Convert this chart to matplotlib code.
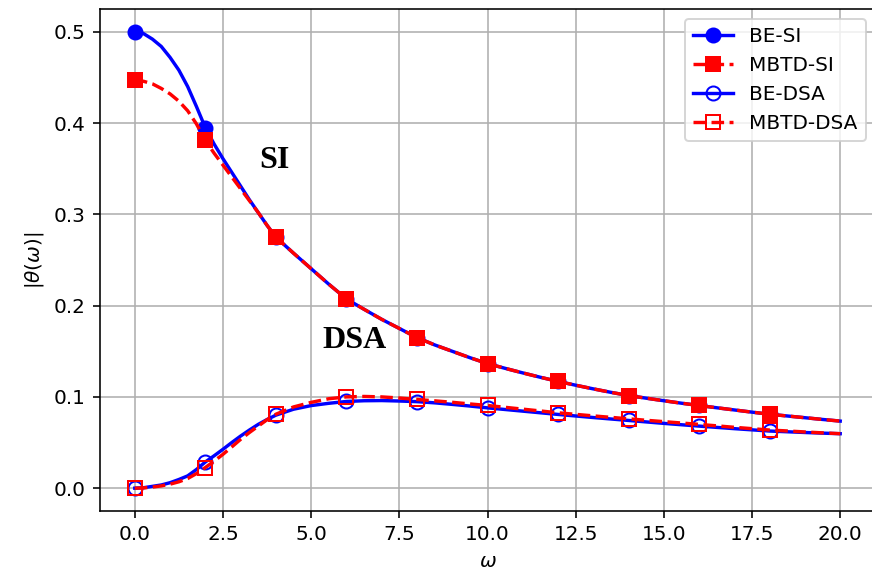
import matplotlib
matplotlib.use('Agg')
import matplotlib.pyplot as plt

# omega samples: every 0.25 up to 4, then every 0.5
omega = [i * 0.25 for i in range(17)] + [4.5 + i * 0.5 for i in range(32)]

be_si = [0.500, 0.498, 0.492, 0.484, 0.472, 0.458, 0.440, 0.418, 0.395,
         0.377, 0.361, 0.346, 0.331, 0.316, 0.302, 0.288, 0.275,
         0.2575, 0.2405, 0.2235, 0.2074, 0.196, 0.185, 0.175, 0.165,
         0.157, 0.150, 0.143, 0.1365, 0.1313, 0.1263, 0.1215, 0.117,
         0.1128, 0.1088, 0.105, 0.1015, 0.0986, 0.0958, 0.0931, 0.0906,
         0.0881, 0.0857, 0.0833, 0.081, 0.0791, 0.0772, 0.0753, 0.0735]

mbtd_si = [0.447, 0.4458, 0.443, 0.438, 0.432, 0.424, 0.4135, 0.399, 0.381,
           0.367, 0.354, 0.341, 0.328, 0.315, 0.302, 0.288, 0.275,
           0.2575, 0.2405, 0.2235, 0.2074, 0.196, 0.185, 0.175, 0.165,
           0.157, 0.150, 0.143, 0.1365, 0.1313, 0.1263, 0.1215, 0.117,
           0.1128, 0.1088, 0.105, 0.1015, 0.0986, 0.0958, 0.0931, 0.0906,
           0.0881, 0.0857, 0.0833, 0.081, 0.0791, 0.0772, 0.0753, 0.0735]

be_dsa = [0.0, 0.0005, 0.002, 0.0035, 0.006, 0.0095, 0.0135, 0.0205, 0.0287,
          0.0355, 0.0426, 0.050, 0.0571, 0.0637, 0.0699, 0.0752, 0.080,
          0.0865, 0.0905, 0.093, 0.0950, 0.0958, 0.096, 0.0955, 0.0948,
          0.0935, 0.0918, 0.090, 0.088, 0.0862, 0.0844, 0.0826, 0.0808,
          0.0791, 0.0774, 0.0758, 0.0742, 0.0726, 0.0710, 0.0695, 0.068,
          0.0666, 0.0652, 0.0639, 0.0626, 0.0618, 0.0610, 0.0603, 0.0597]

mbtd_dsa = [0.0, 0.0003, 0.0012, 0.0025, 0.0044, 0.007, 0.0106, 0.016, 0.0226,
            0.0296, 0.0371, 0.0452, 0.0535, 0.061, 0.068, 0.075, 0.081,
            0.089, 0.094, 0.098, 0.100, 0.1005, 0.100, 0.0988, 0.0972,
            0.0957, 0.0941, 0.0923, 0.0906, 0.0886, 0.0866, 0.0846, 0.0826,
            0.0809, 0.0792, 0.0776, 0.076, 0.0744, 0.0729, 0.0714, 0.0699,
            0.0683, 0.0667, 0.0652, 0.0637, 0.0627, 0.0616, 0.0606, 0.0597]

# markers at omega = 0, 2, ..., 18
marks = [omega.index(float(w)) for w in range(0, 20, 2)]

fig = plt.figure(figsize=(872 / 144, 583 / 144), dpi=144)
ax = fig.add_axes([99.5 / 872, 72 / 583, 776 / 872, 502 / 583])

lw = 1.7
ax.plot(omega, be_si, 'b-', lw=lw, marker='o', ms=7, markevery=marks, label='BE-SI')
ax.plot(omega, mbtd_si, 'r--', lw=lw, marker='s', ms=7, markevery=marks, label='MBTD-SI')
ax.plot(omega, be_dsa, 'b-', lw=lw, marker='o', ms=7, mfc='none', markevery=marks, label='BE-DSA')
ax.plot(omega, mbtd_dsa, 'r--', lw=lw, marker='s', ms=7, mfc='none', markevery=marks, label='MBTD-DSA')

ax.text(3.97, 0.359, 'SI', ha='center', va='center', fontsize=16,
        fontweight='bold', family='Liberation Serif')
ax.text(6.24, 0.162, 'DSA', ha='center', va='center', fontsize=16,
        fontweight='bold', family='Liberation Serif')

ax.set_xlabel(r'$\omega$')
ax.set_ylabel(r'$|\theta(\omega)|$')
ax.set_xlim(-1, 21)
ax.grid(True)
ax.legend(loc='upper right')

fig.savefig('out.png', dpi=144)
